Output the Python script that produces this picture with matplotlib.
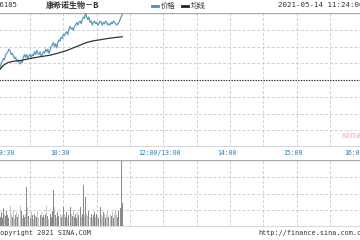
import matplotlib
matplotlib.use('Agg')
import matplotlib.pyplot as plt
import numpy as np

# minute chart data (minutes since 09:30), HK market 09:30-12:00 / 13:00-16:00
prev_close = 262.0
price = [262.6, 263.0, 263.4, 263.8, 264.4, 264.8, 265.2, 265.0, 265.8, 266.0,
         266.2, 266.6, 266.4, 265.8, 266.0, 265.6, 265.2, 265.4, 264.8, 265.0,
         264.6, 264.4, 264.8, 264.6, 265.4, 265.8, 265.4, 265.8, 265.2, 265.6,
         265.8, 265.4, 265.8, 265.6, 266.2, 265.8, 266.4, 266.0, 265.8, 266.2,
         265.6, 265.8, 266.2, 266.0, 266.6, 266.2, 266.6, 266.0, 266.4, 267.0,
         267.2, 267.6, 267.0, 267.4, 266.8, 267.6, 268.0, 267.8, 268.4, 268.2,
         268.8, 268.6, 269.0, 269.2, 268.8, 269.6, 270.0, 269.6, 269.8, 269.4,
         270.0, 270.2, 270.6, 270.2, 270.6, 270.8, 270.4, 271.0, 271.4, 271.2,
         272.0, 271.4, 271.0, 271.4, 270.6, 270.8, 270.2, 270.6, 270.8, 270.4,
         270.6, 270.2, 270.4, 270.8, 270.6, 270.2, 270.6, 270.4, 270.8, 270.6,
         270.2, 270.4, 270.2, 270.6, 270.4, 270.8, 270.6, 270.4, 270.2, 270.4,
         270.6, 271.0, 271.4, 271.8]
avg_t = [0, 3, 6, 10, 15, 21, 27, 33, 40, 48, 55, 63, 69, 75, 81, 87, 93, 100, 107, 113]
avg_p = [262.8, 263.6, 264.2, 264.6, 264.8, 264.9, 265.1, 265.3, 265.5, 265.7,
         266.0, 266.4, 266.8, 267.2, 267.6, 267.85, 268.0, 268.2, 268.35, 268.45]
volume = [30, 18, 26, 15, 22, 14, 28, 20, 16, 24,
          18, 14, 32, 20, 15, 26, 12, 18, 22, 15,
          19, 32, 24, 14, 18, 15, 20, 60, 30, 16,
          14, 22, 18, 12, 20, 16, 15, 24, 14, 18,
          22, 15, 18, 14, 20, 32, 16, 12, 19, 15,
          24, 55, 30, 18, 14, 22, 16, 20, 15, 18,
          30, 19, 15, 22, 14, 18, 30, 20, 16, 24,
          15, 19, 14, 22, 18, 30, 15, 20, 63, 18,
          45, 20, 16, 24, 15, 19, 14, 18, 22, 15,
          20, 16, 14, 30, 18, 15, 22, 19, 14, 18,
          24, 15, 19, 16, 22, 14, 18, 26, 20, 15,
          24, 28, 100, 36]
vol_up = [1 if i == 0 or price[i] >= price[i - 1] else 0 for i in range(len(price))]
ticks_t = [0, 60, 150, 210, 270, 330]
ticks_lab = ['09:30', '10:30', '12:00/13:00', '14:00', '15:00', '16:00']

W, H = 360, 240
fig = plt.figure(figsize=(W / 100, H / 100), dpi=100)
fig.patch.set_facecolor('white')
left = -3.3 / W
width = 366.7 / W

ax = fig.add_axes([left, 1 - 147 / H, width, 134 / H])
axv = fig.add_axes([left, 1 - 227 / H, width, 67 / H])

t = np.arange(len(price))
for a in (ax, axv):
    a.set_xlim(0, 330)
    a.set_xticks([])
    a.set_yticks([])
    for s in a.spines.values():
        s.set_visible(False)
    for gx in range(30, 330, 30):
        a.axvline(gx, color='#d0d0d0', lw=0.7, ls=(0, (3, 2)), zorder=0)

half = 10.0
ax.set_ylim(prev_close - half, prev_close + half)
for k in range(1, 8):
    gy = prev_close - half + k * half / 4
    if k == 4:
        ax.axhline(gy, color='#222222', lw=0.8, ls=(0, (1.2, 1.2)), zorder=1)
    else:
        ax.axhline(gy, color='#d0d0d0', lw=0.7, ls=(0, (3, 2)), zorder=0)
ax.axhline(prev_close + half, color='#a8a8a8', lw=1.0, zorder=2)
ax.axhline(prev_close - half, color='#d8d8d8', lw=2.2, zorder=2)

ax.plot(t, price, color='#5b9bb8', lw=0.9, zorder=3)
ax.plot(avg_t, avg_p, color='#333333', lw=0.9, zorder=3)

axv.set_ylim(0, 100)
for k in range(1, 4):
    axv.axhline(k * 25, color='#d0d0d0', lw=0.7, ls=(0, (3, 2)), zorder=0)
axv.axhline(100, color='#a8a8a8', lw=1.0, zorder=2)
axv.axhline(0, color='#d8d8d8', lw=2.2, zorder=2)
cols = ['#8c8c8c' if u else '#c4c4c4' for u in vol_up]
axv.bar(t, volume, width=0.85, color=cols, zorder=1)

# time labels
for tt, lab in zip(ticks_t, ticks_lab):
    ha = 'left' if tt == 0 else ('right' if tt == 330 else 'center')
    dx = -1 if tt == 0 else (0 if tt == 330 else -3.5)
    ax.annotate(lab, (tt, 0), xycoords=ax.get_xaxis_transform(), xytext=(dx * 0.72, -4.5),
                textcoords='offset points', ha=ha, va='center', fontsize=4.7,
                family='DejaVu Sans Mono', color='#2d7db3')

# header
fig.text(-4 / W, 1 - 5 / H, '06185', fontsize=5.2, family='DejaVu Sans Mono',
         color='#333333', ha='left', va='center')
fig.text(73 / W, 1 - 5.5 / H, '康希诺生物－B', fontsize=5.8, fontweight='bold',
         family=['Noto Sans CJK SC', 'DejaVu Sans'], color='#333333', ha='center', va='center')
fig.lines.append(plt.Line2D([152 / W, 158 / W], [1 - 6 / H, 1 - 6 / H], color='#3f8fc4', lw=2,
                            transform=fig.transFigure))
fig.text(161 / W, 1 - 5.5 / H, '价格', fontsize=5.3, family=['Noto Sans CJK SC', 'DejaVu Sans'],
         color='#333333', ha='left', va='center')
fig.lines.append(plt.Line2D([182 / W, 188 / W], [1 - 6 / H, 1 - 6 / H], color='#222222', lw=2,
                            transform=fig.transFigure))
fig.text(191 / W, 1 - 5.5 / H, '均线', fontsize=5.3, family=['Noto Sans CJK SC', 'DejaVu Sans'],
         color='#333333', ha='left', va='center')
fig.text(278 / W, 1 - 5 / H, '2021-05-14 11:24:00', fontsize=5.4, family='DejaVu Sans Mono',
         color='#333333', ha='left', va='center')

fig.text(342 / W, 1 - 135 / H, 'sina', fontsize=6.5, style='italic', fontweight='bold',
         color='#f0c8cc', ha='left', va='center')

fig.text(-4 / W, 1 - 233 / H, 'Copyright 2021 SINA.COM', fontsize=4.9,
         family='DejaVu Sans Mono', color='#333333', ha='left', va='center')
fig.text(258 / W, 1 - 233 / H, 'http://finance.sina.com.cn', fontsize=4.9,
         family='DejaVu Sans Mono', color='#333333', ha='left', va='center')

fig.savefig('out.png', dpi=100)
